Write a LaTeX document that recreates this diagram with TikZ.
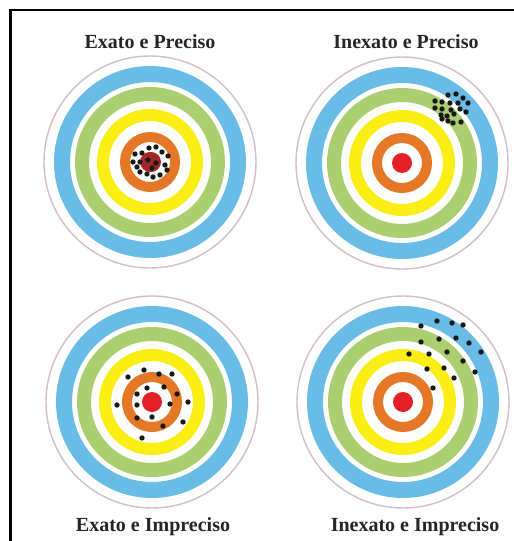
\documentclass[tikz,border=0pt]{standalone}
\usepackage{fontspec}
\setmainfont{Liberation Serif}
\definecolor{ringblue}{RGB}{104,188,230}
\definecolor{ringgreen}{RGB}{170,206,112}
\definecolor{ringyellow}{RGB}{250,238,20}
\definecolor{ringorange}{RGB}{228,120,38}
\definecolor{ringred}{RGB}{228,32,40}
\definecolor{darkred}{RGB}{160,40,40}
\definecolor{rimgrey}{RGB}{212,192,192}
\begin{document}
\begin{tikzpicture}[x=1pt,y=-1pt,
  ttl/.style={font=\bfseries\fontsize{20}{24}\selectfont, text=black!85, inner sep=0pt},
  shot/.style={fill=black!90},
  target/.pic={
    \draw[rimgrey, line width=1.4pt] (0,0) circle (106pt);
    \draw[ringblue, line width=16pt] (0,0) circle (88pt);
    \draw[ringgreen, line width=14pt] (0,0) circle (68pt);
    \draw[ringyellow, line width=12pt] (0,0) circle (47pt);
    \draw[ringorange, line width=10pt] (0,0) circle (25pt);
    \fill[ringred] (0,0) circle (10pt);
  }]
\useasboundingbox (0,0) rectangle (514,541);
\fill[white] (0,0) rectangle (514,541);
\draw[line width=2.5pt] (10.5,541) -- (10.5,10) -- (514,10);

% targets
\pic at (150,162) {target};
\pic at (402,163) {target};
\pic at (152,402) {target};
\pic at (403,402) {target};
\fill[darkred] (151,162) circle (10pt);

% labels
\node[ttl] (t1) at (150,42) {Exato e Preciso};
\node[ttl] (t2) at (406,42) {Inexato e Preciso};
\node[ttl] (t3) at (153,527) {Exato e Impreciso};
\node[ttl] (t4) at (415,527) {Inexato e Impreciso};

% shots: exact and precise
\foreach \p in {(149,148),(156,147),(162,152),(168,156),(135,154),(142,153),
  (133,162),(140,162),(165,165),(167,170),(140,172),(147,174),(153,177),
  (160,175),(137,167),(148,160),(156,163),(152,168)}
  \fill[shot] \p circle (2.7pt);

% shots: inexact and precise
\foreach \p in {(448,95),(456,94),(463,98),(468,103),(435,101),(442,102),
  (450,103),(458,103),(435,108),(442,109),(451,110),(460,109),(466,112),
  (441,115),(447,116),(454,114),(442,119),(448,121),(453,123),(461,122)}
  \fill[shot] \p circle (2.7pt);

% shots: exact and imprecise
\foreach \p in {(144,370),(159,374),(172,374),(128,377),(147,388),(164,387),
  (177,394),(137,394),(117,405),(137,405),(170,404),(188,402),(152,417),
  (137,418),(163,426),(183,422),(142,438)}
  \fill[shot] \p circle (2.7pt);

% shots: inexact and imprecise
\foreach \p in {(437,321),(452,323),(463,325),(421,326),(421,342),(439,339),
  (456,338),(469,343),(481,352),(409,354),(429,354),(447,352),(463,361),
  (475,372),(427,369),(444,368),(454,378),(433,388)}
  \fill[shot] \p circle (2.7pt);
\end{tikzpicture}
\end{document}
